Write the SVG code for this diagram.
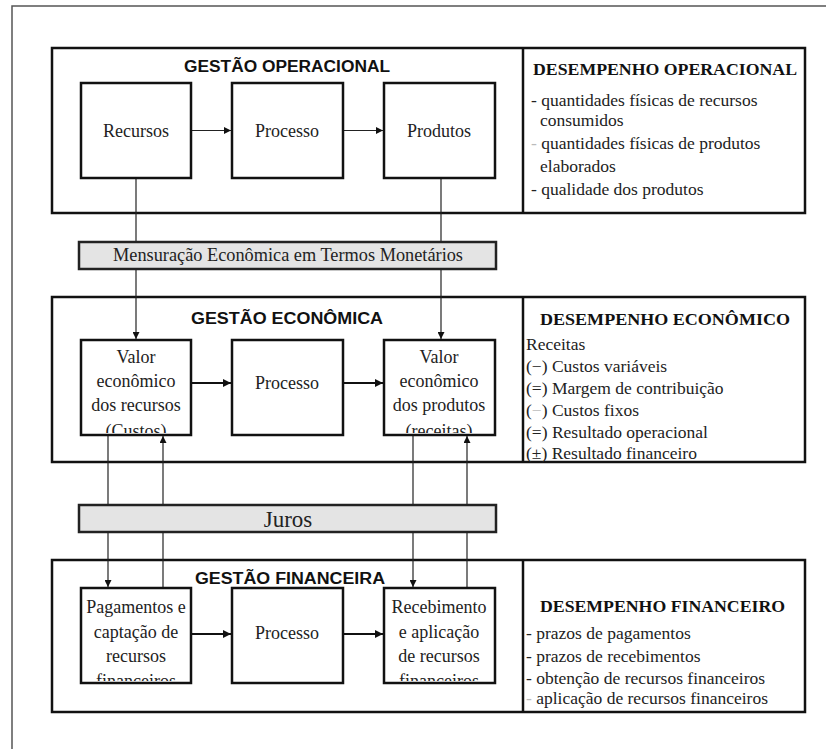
<svg xmlns="http://www.w3.org/2000/svg" width="826" height="749" viewBox="0 0 826 749">
  <defs>
    <style>
      .frame { fill: none; stroke: #555; stroke-width: 1.5; }
      .panel { fill: none; stroke: #111; stroke-width: 2.5; }
      .box { fill: #fff; stroke: #111; stroke-width: 2.5; }
      .bar { fill: #e4e4e4; stroke: #222; stroke-width: 2.5; }
      .conn { fill: none; stroke: #222; stroke-width: 1.2; }
      .conn2 { fill: none; stroke: #111; stroke-width: 2; }
      .title { font-family: "Liberation Sans", Arial, sans-serif; font-weight: bold; font-size: 16px; fill: #111; text-anchor: middle; }
      .head { font-family: "Liberation Serif", "Times New Roman", serif; font-weight: bold; font-size: 16.5px; fill: #111; }
      .lbl { font-family: "Liberation Serif", "Times New Roman", serif; font-size: 18px; fill: #222; text-anchor: middle; }
      .item { font-family: "Liberation Serif", "Times New Roman", serif; font-size: 17.5px; fill: #222; }
      .faint { fill: #bbb; }
    </style>
    <marker id="ah" viewBox="0 0 10 10" refX="10" refY="5" markerWidth="7" markerHeight="7" markerUnits="userSpaceOnUse" orient="auto">
      <path d="M0,0 L10,5 L0,10 Z" fill="#111"/>
    </marker>
    <marker id="ah2" viewBox="0 0 10 10" refX="10" refY="5" markerWidth="8" markerHeight="8" markerUnits="userSpaceOnUse" orient="auto">
      <path d="M0,0 L10,5 L0,10 Z" fill="#111"/>
    </marker>
    <clipPath id="cL1"><rect x="82" y="341" width="108" height="92"/></clipPath>
    <clipPath id="cR1"><rect x="385" y="341" width="108" height="92"/></clipPath>
    <clipPath id="cL2"><rect x="82" y="589" width="108" height="92"/></clipPath>
    <clipPath id="cR2"><rect x="385" y="589" width="108" height="92"/></clipPath>
  </defs>

  <rect width="826" height="749" fill="#fff"/>
  <!-- outer frame -->
  <path class="frame" d="M12,749 L12,6 L826,6"/>

  <!-- level panels -->
  <g id="gestao-operacional">
    <rect class="panel" x="52" y="48" width="753" height="165"/>
    <line x1="523" y1="48" x2="523" y2="213" stroke="#111" stroke-width="2.5"/>
    <text class="title" x="287" y="72" textLength="206" lengthAdjust="spacingAndGlyphs">GESTÃO OPERACIONAL</text>
  </g>
  <g id="gestao-economica">
    <rect class="panel" x="52" y="297" width="753" height="165"/>
    <line x1="523" y1="297" x2="523" y2="462" stroke="#111" stroke-width="2.5"/>
    <text class="title" x="287" y="324" textLength="192" lengthAdjust="spacingAndGlyphs">GESTÃO ECONÔMICA</text>
  </g>
  <g id="gestao-financeira">
    <rect class="panel" x="52" y="560" width="753" height="152"/>
    <line x1="523" y1="560" x2="523" y2="712" stroke="#111" stroke-width="2.5"/>
    <text class="title" x="290" y="584" textLength="190" lengthAdjust="spacingAndGlyphs">GESTÃO FINANCEIRA</text>
  </g>

  <!-- connectors (bars and boxes are painted over them) -->
  <g id="connectors">
    <line class="conn" x1="192" y1="130.5" x2="231" y2="130.5" marker-end="url(#ah)"/>
    <line class="conn" x1="344" y1="130.5" x2="383" y2="130.5" marker-end="url(#ah)"/>
    <line class="conn" x1="136" y1="179" x2="136" y2="339" marker-end="url(#ah)"/>
    <line class="conn" x1="441" y1="179" x2="441" y2="339" marker-end="url(#ah)"/>
    <line class="conn2" x1="192" y1="383" x2="231" y2="383" marker-end="url(#ah2)"/>
    <line class="conn2" x1="344" y1="383" x2="383" y2="383" marker-end="url(#ah2)"/>
    <line class="conn" x1="108" y1="436" x2="108" y2="587" marker-end="url(#ah)"/>
    <line class="conn" x1="163" y1="588" x2="163" y2="436" marker-end="url(#ah)"/>
    <line class="conn" x1="413" y1="436" x2="413" y2="587" marker-end="url(#ah)"/>
    <line class="conn" x1="467" y1="588" x2="467" y2="436" marker-end="url(#ah)"/>
    <line class="conn2" x1="192" y1="634" x2="231" y2="634" marker-end="url(#ah2)"/>
    <line class="conn2" x1="344" y1="634" x2="383" y2="634" marker-end="url(#ah2)"/>
  </g>

  <!-- operational level -->
  <g id="desempenho-operacional">
    <text class="head" x="533" y="75" textLength="264" lengthAdjust="spacingAndGlyphs">DESEMPENHO OPERACIONAL</text>
    <text class="item" x="531" y="106">- quantidades físicas de recursos</text>
    <text class="item" x="540" y="126">consumidos</text>
    <text class="item" x="531" y="149"><tspan class="faint">-</tspan> quantidades físicas de produtos</text>
    <text class="item" x="540" y="172">elaborados</text>
    <text class="item" x="531" y="195">- qualidade dos produtos</text>
  </g>
  <g id="recursos">
    <rect class="box" x="81" y="83" width="110" height="95"/>
    <text class="lbl" x="136" y="137">Recursos</text>
  </g>
  <g id="processo-op">
    <rect class="box" x="232" y="83" width="111" height="95"/>
    <text class="lbl" x="287" y="137">Processo</text>
  </g>
  <g id="produtos">
    <rect class="box" x="384" y="83" width="111" height="95"/>
    <text class="lbl" x="439" y="137">Produtos</text>
  </g>

  <!-- measurement bar -->
  <g id="mensuracao">
    <rect class="bar" x="79" y="242" width="417" height="27"/>
    <text class="lbl" x="288" y="261" textLength="350" lengthAdjust="spacingAndGlyphs">Mensuração Econômica em Termos Monetários</text>
  </g>

  <!-- economic level -->
  <g id="desempenho-economico">
    <text class="head" x="540" y="325" textLength="250" lengthAdjust="spacingAndGlyphs">DESEMPENHO ECONÔMICO</text>
    <text class="item" x="526" y="350">Receitas</text>
    <text class="item" x="526" y="372">(−) Custos variáveis</text>
    <text class="item" x="526" y="394">(=) Margem de contribuição</text>
    <text class="item" x="526" y="416">(<tspan class="faint">−</tspan>) Custos fixos</text>
    <text class="item" x="526" y="438">(=) Resultado operacional</text>
    <text class="item" x="526" y="459">(±) Resultado financeiro</text>
  </g>
  <g id="valor-recursos">
    <rect class="box" x="81" y="340" width="110" height="95"/>
    <g clip-path="url(#cL1)">
      <text class="lbl" x="136" y="363">Valor</text>
      <text class="lbl" x="136" y="387">econômico</text>
      <text class="lbl" x="136" y="411">dos recursos</text>
      <text class="lbl" x="136" y="437">(Custos)</text>
    </g>
  </g>
  <g id="processo-ec">
    <rect class="box" x="232" y="340" width="111" height="95"/>
    <text class="lbl" x="287" y="389">Processo</text>
  </g>
  <g id="valor-produtos">
    <rect class="box" x="384" y="340" width="111" height="95"/>
    <g clip-path="url(#cR1)">
      <text class="lbl" x="439" y="363">Valor</text>
      <text class="lbl" x="439" y="387">econômico</text>
      <text class="lbl" x="439" y="411">dos produtos</text>
      <text class="lbl" x="439" y="437">(receitas)</text>
    </g>
  </g>

  <!-- interest bar -->
  <g id="juros">
    <rect class="bar" x="79" y="505" width="417" height="27"/>
    <text class="lbl" x="288" y="527" style="font-size:23px">Juros</text>
  </g>

  <!-- financial level -->
  <g id="desempenho-financeiro">
    <text class="head" x="540" y="612" textLength="245" lengthAdjust="spacingAndGlyphs">DESEMPENHO FINANCEIRO</text>
    <text class="item" x="526" y="639">- prazos de pagamentos</text>
    <text class="item" x="526" y="662">- prazos de recebimentos</text>
    <text class="item" x="526" y="684">- obtenção de recursos financeiros</text>
    <text class="item" x="526" y="704"><tspan class="faint">-</tspan> aplicação de recursos financeiros</text>
  </g>
  <g id="pagamentos">
    <rect class="box" x="81" y="588" width="110" height="95"/>
    <g clip-path="url(#cL2)">
      <text class="lbl" x="136" y="613">Pagamentos e</text>
      <text class="lbl" x="136" y="638">captação de</text>
      <text class="lbl" x="136" y="662">recursos</text>
      <text class="lbl" x="136" y="687">financeiros</text>
    </g>
  </g>
  <g id="processo-fin">
    <rect class="box" x="232" y="588" width="111" height="95"/>
    <text class="lbl" x="287" y="639">Processo</text>
  </g>
  <g id="recebimento">
    <rect class="box" x="384" y="588" width="111" height="95"/>
    <g clip-path="url(#cR2)">
      <text class="lbl" x="439" y="613">Recebimento</text>
      <text class="lbl" x="439" y="638">e aplicação</text>
      <text class="lbl" x="439" y="662">de recursos</text>
      <text class="lbl" x="439" y="687">financeiros</text>
    </g>
  </g>
</svg>
